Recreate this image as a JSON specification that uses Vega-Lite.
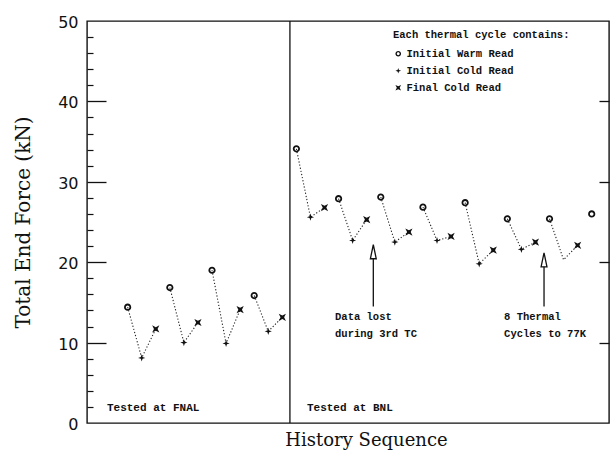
{
  "$schema": "https://vega.github.io/schema/vega-lite/v6.json",
  "width": 522,
  "height": 402,
  "autosize": "none",
  "padding": {"left": 87, "top": 21, "right": 1, "bottom": 28},
  "background": "white",
  "config": {
    "view": {"stroke": "#111", "strokeWidth": 1.4},
    "font": "DejaVu Sans",
    "axisX": {"ticks": false, "labels": false, "domain": false, "grid": false,
      "titleFont": "DejaVu Serif", "titleFontSize": 18, "titleFontWeight": "normal", "titleColor": "#111", "titlePadding": 8, "titleX": 279}
  },
  "datasets": {
    "readings": [
      {"seq": 0, "force": 14.4, "read": "Initial Warm Read", "cycle": "F1", "recorded": true},
      {"seq": 1, "force": 8.1, "read": "Initial Cold Read", "cycle": "F1", "recorded": true},
      {"seq": 2, "force": 11.7, "read": "Final Cold Read", "cycle": "F1", "recorded": true},
      {"seq": 3, "force": 16.85, "read": "Initial Warm Read", "cycle": "F2", "recorded": true},
      {"seq": 4, "force": 10.0, "read": "Initial Cold Read", "cycle": "F2", "recorded": true},
      {"seq": 5, "force": 12.5, "read": "Final Cold Read", "cycle": "F2", "recorded": true},
      {"seq": 6, "force": 19.0, "read": "Initial Warm Read", "cycle": "F3", "recorded": true},
      {"seq": 7, "force": 9.9, "read": "Initial Cold Read", "cycle": "F3", "recorded": true},
      {"seq": 8, "force": 14.1, "read": "Final Cold Read", "cycle": "F3", "recorded": true},
      {"seq": 9, "force": 15.85, "read": "Initial Warm Read", "cycle": "F4", "recorded": true},
      {"seq": 10, "force": 11.4, "read": "Initial Cold Read", "cycle": "F4", "recorded": true},
      {"seq": 11, "force": 13.15, "read": "Final Cold Read", "cycle": "F4", "recorded": true},
      {"seq": 12, "force": 34.1, "read": "Initial Warm Read", "cycle": "B1", "recorded": true},
      {"seq": 13, "force": 25.6, "read": "Initial Cold Read", "cycle": "B1", "recorded": true},
      {"seq": 14, "force": 26.8, "read": "Final Cold Read", "cycle": "B1", "recorded": true},
      {"seq": 15, "force": 27.9, "read": "Initial Warm Read", "cycle": "B2", "recorded": true},
      {"seq": 16, "force": 22.7, "read": "Initial Cold Read", "cycle": "B2", "recorded": true},
      {"seq": 17, "force": 25.3, "read": "Final Cold Read", "cycle": "B2", "recorded": true},
      {"seq": 18, "force": 28.1, "read": "Initial Warm Read", "cycle": "B3", "recorded": true},
      {"seq": 19, "force": 22.5, "read": "Initial Cold Read", "cycle": "B3", "recorded": true},
      {"seq": 20, "force": 23.75, "read": "Final Cold Read", "cycle": "B3", "recorded": true},
      {"seq": 21, "force": 26.85, "read": "Initial Warm Read", "cycle": "B4", "recorded": true},
      {"seq": 22, "force": 22.7, "read": "Initial Cold Read", "cycle": "B4", "recorded": true},
      {"seq": 23, "force": 23.2, "read": "Final Cold Read", "cycle": "B4", "recorded": true},
      {"seq": 24, "force": 27.4, "read": "Initial Warm Read", "cycle": "B5", "recorded": true},
      {"seq": 25, "force": 19.8, "read": "Initial Cold Read", "cycle": "B5", "recorded": true},
      {"seq": 26, "force": 21.5, "read": "Final Cold Read", "cycle": "B5", "recorded": true},
      {"seq": 27, "force": 25.4, "read": "Initial Warm Read", "cycle": "B6", "recorded": true},
      {"seq": 28, "force": 21.6, "read": "Initial Cold Read", "cycle": "B6", "recorded": true},
      {"seq": 29, "force": 22.5, "read": "Final Cold Read", "cycle": "B6", "recorded": true},
      {"seq": 30, "force": 25.4, "read": "Initial Warm Read", "cycle": "B7", "recorded": true},
      {"seq": 31, "force": 20.3, "read": "Initial Cold Read", "cycle": "B7", "recorded": false},
      {"seq": 32, "force": 22.1, "read": "Final Cold Read", "cycle": "B7", "recorded": true},
      {"seq": 33, "force": 26.0, "read": "Initial Warm Read", "cycle": "B8", "recorded": true}
    ],
    "notes": [
      {"x": -1.47, "y": 1.87, "label": "Tested at FNAL", "size": "big"},
      {"x": 12.75, "y": 1.87, "label": "Tested at BNL", "size": "big"},
      {"x": 14.75, "y": 13.24, "label": "Data lost", "size": "small"},
      {"x": 14.75, "y": 11.08, "label": "during 3rd TC", "size": "small"},
      {"x": 26.77, "y": 13.24, "label": "8 Thermal", "size": "small"},
      {"x": 26.77, "y": 11.08, "label": "Cycles to 77K", "size": "small"}
    ],
    "arrows": [
      {"x": 17.47, "top": 21.3, "bottom": 14.5},
      {"x": 29.61, "top": 20.3, "bottom": 14.5}
    ]
  },
  "resolve": {"scale": {"x": "shared", "y": "shared"}, "axis": {"y": "independent"}},
  "layer": [
    {
      "data": {"values": [{"boundary": 11.54}]},
      "mark": {"type": "rule", "color": "#111", "strokeWidth": 1.3},
      "encoding": {
        "x": {"field": "boundary", "type": "quantitative", "title": "History Sequence", "scale": {"domain": [-2.89, 34.23], "nice": false, "zero": false}}
      }
    },
    {
      "data": {"name": "readings"},
      "mark": {"type": "line", "color": "#222", "strokeWidth": 1.1, "strokeDash": [1.2, 2]},
      "encoding": {
        "x": {"field": "seq", "type": "quantitative", "title": "History Sequence", "scale": {"domain": [-2.89, 34.23], "nice": false, "zero": false}},
        "y": {"field": "force", "type": "quantitative", "scale": {"domain": [0, 50], "nice": false, "zero": true},
          "axis": {"orient": "left", "title": "Total End Force (kN)", "values": [0, 10, 20, 30, 40, 50], "ticks": false, "domain": false, "grid": false,
            "labelFont": "DejaVu Sans", "labelFontSize": 16, "labelColor": "#111", "labelPadding": 9, "labelOffset": 1.5,
            "titleFont": "DejaVu Serif", "titleFontSize": 20, "titleFontWeight": "normal", "titleColor": "#111", "titlePadding": 24}},
        "detail": {"field": "cycle", "type": "nominal"}
      }
    },
    {
      "data": {"name": "readings"},
      "transform": [{"filter": "datum.recorded"}],
      "mark": {"type": "point", "filled": true, "color": "#111", "opacity": 1, "strokeWidth": 0},
      "encoding": {
        "x": {"field": "seq", "type": "quantitative", "title": "History Sequence", "scale": {"domain": [-2.89, 34.23], "nice": false, "zero": false}},
        "y": {"field": "force", "type": "quantitative", "scale": {"domain": [0, 50], "nice": false, "zero": true},
          "axis": {"orient": "left", "title": null, "labels": false, "domain": false, "grid": false,
            "values": [2, 4, 6, 8, 12, 14, 16, 18, 22, 24, 26, 28, 32, 34, 36, 38, 42, 44, 46, 48],
            "tickSize": -6, "tickColor": "#111", "tickWidth": 1.2}},
        "shape": {"field": "read", "type": "nominal",
          "scale": {"domain": ["Initial Warm Read", "Initial Cold Read", "Final Cold Read"],
            "range": [
              "M0,-1 A1,1 0 1,1 0,1 A1,1 0 1,1 0,-1 Z M0,-0.5 A0.5,0.5 0 1,0 0,0.5 A0.5,0.5 0 1,0 0,-0.5 Z",
              "M0,-1 L0.24,-0.24 L1,0 L0.24,0.24 L0,1 L-0.24,0.24 L-1,0 L-0.24,-0.24 Z",
              "M-1,-1 L0,-0.5 L1,-1 L0.5,0 L1,1 L0,0.5 L-1,1 L-0.5,0 Z"
            ]},
          "legend": {"title": "Each thermal cycle contains:", "orient": "none", "legendX": 306, "legendY": 9,
            "titleFont": "Liberation Mono", "titleFontWeight": "bold", "titleFontSize": 10.5, "titleColor": "#111", "titlePadding": 8,
            "labelFont": "Liberation Mono", "labelFontWeight": "bold", "labelFontSize": 10.5, "labelColor": "#111",
            "symbolSize": 32, "symbolStrokeWidth": 0, "rowPadding": 6, "labelOffset": 3, "padding": 0}
        },
        "size": {"value": 52}
      }
    },
    {
      "data": {"name": "arrows"},
      "mark": {"type": "rule", "color": "#111", "strokeWidth": 1.3},
      "encoding": {
        "x": {"field": "x", "type": "quantitative", "title": "History Sequence", "scale": {"domain": [-2.89, 34.23], "nice": false, "zero": false}},
        "y": {"field": "bottom", "type": "quantitative", "scale": {"domain": [0, 50], "nice": false, "zero": true},
          "axis": {"orient": "left", "title": null, "labels": false, "domain": false, "grid": false,
            "values": [10, 20, 30, 40], "tickSize": -19, "tickColor": "#111", "tickWidth": 1.3}},
        "y2": {"field": "top"}
      }
    },
    {
      "data": {"name": "arrows"},
      "mark": {"type": "point", "filled": true, "fill": "white", "stroke": "#111", "strokeWidth": 1.3, "opacity": 1,
        "shape": "M0,-1 L0.42,1 L-0.42,1 Z", "size": 196},
      "encoding": {
        "x": {"field": "x", "type": "quantitative", "title": "History Sequence", "scale": {"domain": [-2.89, 34.23], "nice": false, "zero": false}},
        "y": {"field": "top", "type": "quantitative", "scale": {"domain": [0, 50], "nice": false, "zero": true},
          "axis": {"orient": "right", "title": null, "labels": false, "domain": false, "grid": false,
            "values": [10, 20, 30, 40], "tickSize": -10, "tickColor": "#111", "tickWidth": 1.3}}
      }
    },
    {
      "data": {"name": "notes"},
      "mark": {"type": "text", "align": "left", "baseline": "middle", "font": "Liberation Mono", "fontWeight": "bold", "color": "#111"},
      "encoding": {
        "x": {"field": "x", "type": "quantitative", "title": "History Sequence", "scale": {"domain": [-2.89, 34.23], "nice": false, "zero": false}},
        "y": {"field": "y", "type": "quantitative", "scale": {"domain": [0, 50], "nice": false, "zero": true}, "axis": null},
        "text": {"field": "label", "type": "nominal"},
        "size": {"field": "size", "type": "nominal", "scale": {"domain": ["big", "small"], "range": [11, 10.5]}, "legend": null}
      }
    }
  ]
}
